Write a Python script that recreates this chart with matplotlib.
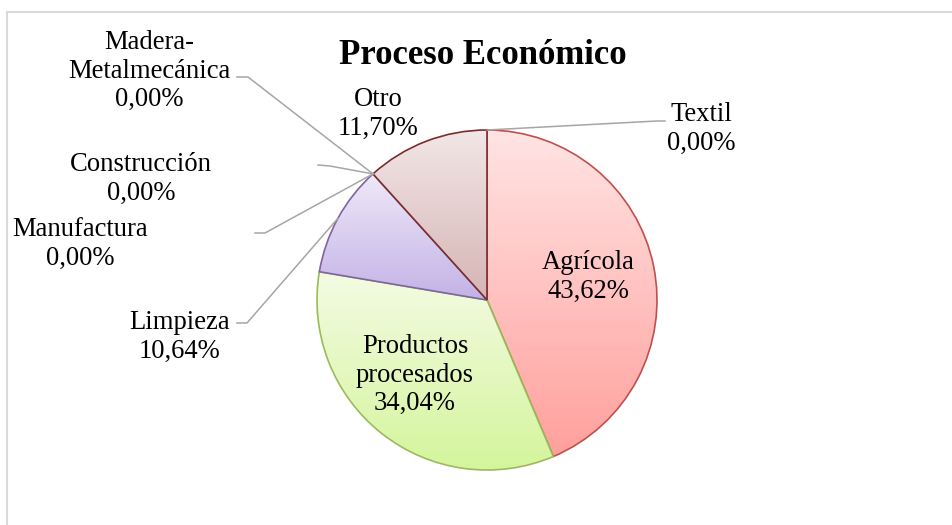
import numpy as np
import matplotlib.pyplot as plt
from matplotlib.colors import LinearSegmentedColormap

# Datos del grafico
categorias = ['Agrícola', 'Productos\nprocesados', 'Limpieza', 'Manufactura',
              'Construcción', 'Madera-\nMetalmecánica', 'Otro', 'Textil']
porcentajes = [43.62, 34.04, 10.64, 0.00, 0.00, 0.00, 11.70, 0.00]

# colores (arriba, abajo, borde) de cada porcion
colores = [('#ffe4e4', '#ffa09c', '#c0504d'),
           ('#f4fbe4', '#d4f59c', '#9bbb59'),
           ('#efe9f8', '#c3b2e6', '#8064a2'),
           ('#cccccc', '#cccccc', '#999999'),
           ('#cccccc', '#cccccc', '#999999'),
           ('#cccccc', '#cccccc', '#999999'),
           ('#f2e6e6', '#d6b4b4', '#7b2c2c'),
           ('#cccccc', '#cccccc', '#999999')]

plt.rcParams['font.family'] = ['Liberation Serif', 'DejaVu Serif']

fig = plt.figure(figsize=(9.52, 5.25), dpi=100)
ax = fig.add_axes([0, 0, 1, 1])

# marco gris del area del grafico
fig.add_artist(plt.Line2D([7 / 952, 1], [1 - 12 / 525, 1 - 12 / 525], color='#d9d9d9', lw=1.5))
fig.add_artist(plt.Line2D([7 / 952, 7 / 952], [0, 1 - 12 / 525], color='#d9d9d9', lw=1.5))

cx, cy, r = 487, 225, 170
wedges, _ = ax.pie(porcentajes, center=(cx, cy), radius=r, startangle=90,
                   counterclock=False, frame=True)
ax.set_xlim(0, 952)
ax.set_ylim(0, 525)
ax.set_aspect('equal')
ax.axis('off')

grad = np.linspace(0, 1, 256).reshape(-1, 1)
for i, (w, (c_top, c_bot, c_edge)) in enumerate(zip(wedges, colores)):
    w.set_facecolor('none')
    w.set_zorder(2 * i + 2)
    if porcentajes[i] == 0:
        w.set_linewidth(0)
        continue
    w.set_edgecolor(c_edge)
    w.set_linewidth(1.2)
    bb = w.get_path().get_extents()
    cmap = LinearSegmentedColormap.from_list('g%d' % i, [c_bot, c_top])
    im = ax.imshow(grad, cmap=cmap, origin='lower', aspect='auto',
                   extent=[bb.x0, bb.x1, bb.y0, bb.y1], zorder=2 * i + 1,
                   interpolation='bilinear')
    im.set_clip_path(w)


def fmt(v):
    return ('%.2f' % v).replace('.', ',') + '%'


def borde(w):
    ang = np.deg2rad((w.theta1 + w.theta2) / 2)
    return cx + r * np.cos(ang), cy + r * np.sin(ang)


fs = 19.2
# etiquetas: posicion del texto (centro) y codo de la linea guia
pos_texto = {0: (588, 248), 1: (415, 150), 2: (180, 188), 3: (80, 281),
             4: (141, 346), 5: (149, 454), 6: (378, 411), 7: (701, 396)}
codos = {2: [(237, 202), (247, 202)], 3: [(255, 292), (265, 292)],
         4: [(318, 360), (330, 359)], 5: [(237, 448), (248, 448)],
         7: [(665, 404), (657, 404)]}

for i, nombre in enumerate(categorias):
    tx, ty = pos_texto[i]
    ax.text(tx, ty, nombre + '\n' + fmt(porcentajes[i]), ha='center', va='center',
            fontsize=fs, linespacing=1.18, zorder=30)
    if i in codos:
        ex, ey = borde(wedges[i])
        (ax1, ay1), (ax2, ay2) = codos[i]
        ax.plot([ax1, ax2, ex], [ay1, ay2, ey], color='#a6a6a6', lw=1.1, zorder=25)

ax.text(483, 470, 'Proceso Económico', ha='center', va='center',
        fontsize=25, fontweight='bold', zorder=30)

fig.savefig('out.png', dpi=100)
